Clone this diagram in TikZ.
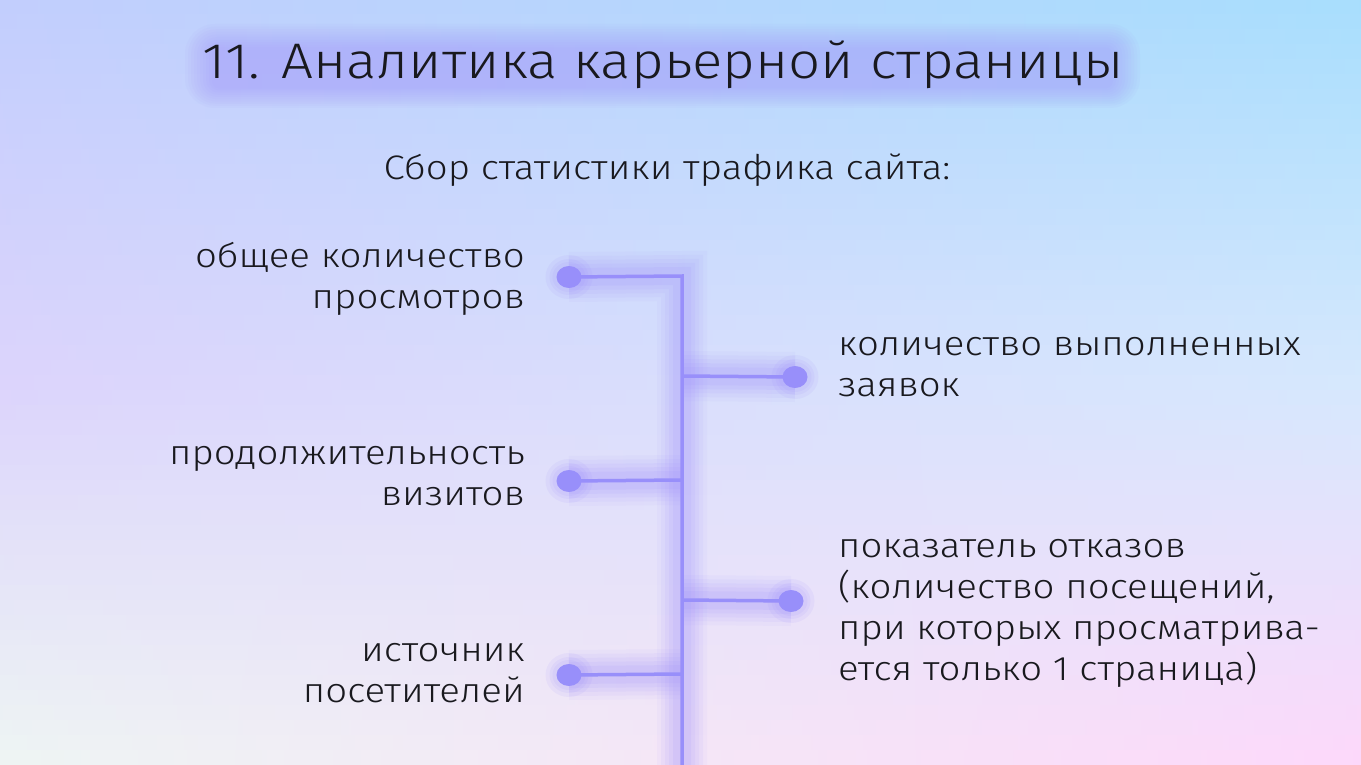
\documentclass[tikz,border=0pt]{standalone}
\usepackage{fontspec}
\setmainfont{Fira Sans Light}[FakeStretch=1.13]
\definecolor{bgtl}{RGB}{194,206,253}
\definecolor{bgtr}{RGB}{168,222,253}
\definecolor{bgml}{RGB}{220,212,252}
\definecolor{bgmr}{RGB}{214,232,253}
\definecolor{bgbl}{RGB}{238,245,243}
\definecolor{bgbr}{RGB}{253,216,250}
\definecolor{linec}{RGB}{152,143,250}
\definecolor{glowc}{RGB}{160,145,250}
\definecolor{textc}{RGB}{25,25,30}
\tikzset{
  glowl/.style={preaction={draw=glowc,line width=50pt,opacity=.06},
                preaction={draw=glowc,line width=42pt,opacity=.08},
                preaction={draw=glowc,line width=34pt,opacity=.09},
                preaction={draw=glowc,line width=26pt,opacity=.10},
                preaction={draw=glowc,line width=18pt,opacity=.12}},
  conn/.style={draw=linec,line width=3.5pt},
  dotglow/.style={fill=glowc,opacity=.10},
  lbl/.style={text=textc,inner sep=0pt,font=\fontsize{34}{41}\selectfont},
}
\begin{document}
\begin{tikzpicture}[x=1pt,y=1pt]
\useasboundingbox (0,0) rectangle (1361,-765);
% background (bilinear bands)
\foreach \i in {0,...,50} {
  \pgfmathsetmacro\t{(\i+0.5)/51}
  \ifdim\t pt<0.5pt
    \pgfmathtruncatemacro\p{\t*200}
    \colorlet{cl}{bgml!\p!bgtl}\colorlet{cr}{bgmr!\p!bgtr}
  \else
    \pgfmathtruncatemacro\p{(\t-0.5)*200}
    \colorlet{cl}{bgbl!\p!bgml}\colorlet{cr}{bgbr!\p!bgmr}
  \fi
  \shade[left color=cl,right color=cr] (0,-\i*15) rectangle (1361,-\i*15-16);
}
% title glow
\foreach \k in {0,...,9} {
  \fill[glowc,opacity=.055,rounded corners={(30-2.5*\k)*1pt}]
    (185+3*\k,-24-2.6*\k) rectangle (1140-3*\k,-108+2.2*\k);
}
\node[text=textc,anchor=base,inner sep=0pt,font=\fontsize{50}{60}\selectfont] (title) at (663,-79) {11. Аналитика карьерной страницы};
\node[lbl,anchor=base] (sub) at (667,-180) {Сбор статистики трафика сайта:};
% connectors
\coordinate (j1) at (682,-276);
\coordinate (j2) at (682,-376);
\coordinate (j3) at (682,-480);
\coordinate (j4) at (682,-600);
\coordinate (j5) at (682,-674);
\coordinate (bot) at (682,-775);
\coordinate (d1) at (569,-277);
\coordinate (d2) at (795,-377);
\coordinate (d3) at (569,-481);
\coordinate (d4) at (791,-601);
\coordinate (d5) at (569,-675);
\draw[glowl,conn] (d1) -- (j1) -- (bot);
\draw[glowl,conn] (j2) -- (d2);
\draw[glowl,conn] (d3) -- (j3);
\draw[glowl,conn] (j4) -- (d4);
\draw[glowl,conn] (d5) -- (j5);
\foreach \d in {d1,d2,d3,d4,d5} {
  \foreach \r in {11,7,4} {
    \fill[dotglow] (\d) ellipse[x radius={(12.5+\r)*1pt},y radius={(11+\r)*1pt}];
  }
  \fill[linec] (\d) ellipse[x radius=12.5pt,y radius=11pt];
}
% labels (anchor = baseline of last line)
\node[lbl,anchor=base east,align=right] (t1) at (525,-308) {общее количество\\просмотров};
\node[lbl,anchor=base west,align=left] (t2) at (838,-396) {количество выполненных\\заявок};
\node[lbl,anchor=base east,align=right] (t3) at (525,-505) {продолжительность\\визитов};
\node[lbl,anchor=base west,align=left] (t4) at (838,-680) {показатель отказов\\(количество посещений,\\при которых просматрива-\\ется только 1 страница)};
\node[lbl,anchor=base east,align=right] (t5) at (525,-702) {источник\\посетителей};
\end{tikzpicture}
\end{document}
